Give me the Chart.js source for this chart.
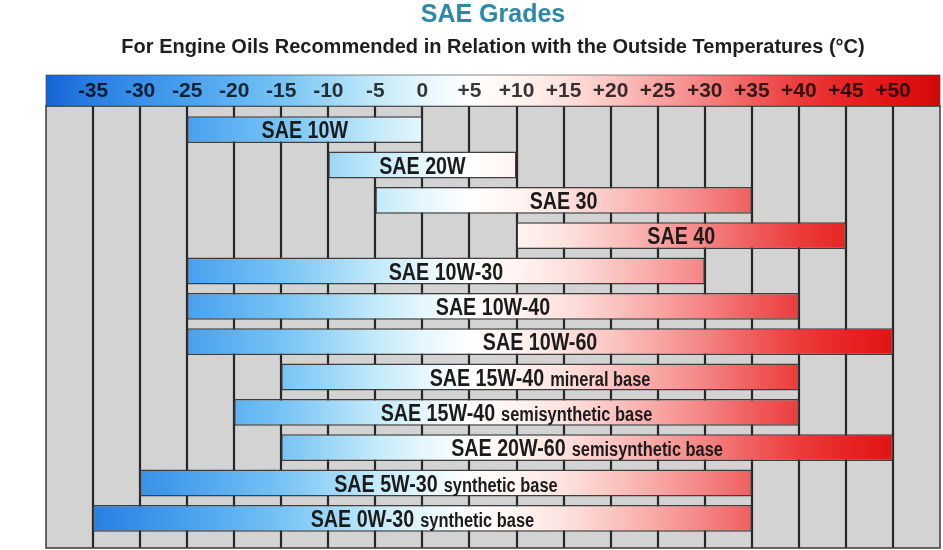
<!DOCTYPE html>
<html>
<head>
<meta charset="utf-8">
<script src="https://cdn.jsdelivr.net/npm/chart.js@4.4.1/dist/chart.umd.min.js"></script>
<style>
    html, body { margin: 0; padding: 0; background: #ffffff; overflow: hidden; }
    #wrap { width: 943px; height: 550px; position: relative; }
    #wrap canvas { display: block; }
</style>
</head>
<body>
<div id="wrap"><canvas id="oilChart"></canvas></div>
<script>
// data
const grades = ["SAE 10W", "SAE 20W", "SAE 30", "SAE 40", "SAE 10W-30", "SAE 10W-40", "SAE 10W-60",
    "SAE 15W-40", "SAE 15W-40", "SAE 20W-60", "SAE 5W-30", "SAE 0W-30"];
const bases = ["", "", "", "", "", "", "",
    "mineral base", "semisynthetic base", "semisynthetic base", "synthetic base", "synthetic base"];
const minTemps = [-25, -10, -5, 10, -25, -25, -25, -15, -20, -15, -30, -35];
const maxTemps = [0, 10, 35, 45, 30, 40, 50, 40, 40, 50, 35, 35];
const tempMin = -40;
const tempMax = 55;
const tempStep = 5;

// blue -> white -> red colour ramp by temperature
const rampTemps = [-40, -35, -25, -15, -10, -5, 0, 5, 10, 15, 20, 25, 30, 35, 40, 45, 50, 55];
const rampColors = ["#1463d4", "#2a7fe2", "#48a0ee", "#76c3f5", "#9bd6f7", "#c3eafa", "#e4f6fc", "#ffffff",
    "#fff4f1", "#fde2df", "#fbc6c3", "#f8a6a4", "#f48383", "#f05e5e", "#ec3c3c", "#e82424", "#e21414", "#d20808"];

const sans = '"Liberation Sans", Arial, sans-serif';

function tempGradient(chart) {
    const x = chart.scales.x;
    const ctx = chart.ctx;
    const g = ctx.createLinearGradient(x.getPixelForValue(tempMin), 0, x.getPixelForValue(tempMax), 0);
    rampTemps.forEach((t, i) => {
        g.addColorStop((t - tempMin) / (tempMax - tempMin), rampColors[i]);
    });
    return g;
}

// gray panel, header band and vertical grid lines
const backdrop = {
    id: "backdrop",
    beforeDraw(chart) {
        const { ctx, chartArea, scales } = chart;
        const x = scales.x;
        const left = x.getPixelForValue(tempMin);
        const right = x.getPixelForValue(tempMax);
        const headTop = chartArea.top - 37;
        const headBottom = chartArea.top - 6;
        const bottom = chartArea.bottom + 12;
        ctx.save();
        ctx.fillStyle = "#d3d3d3";
        ctx.fillRect(left, headBottom, right - left, bottom - headBottom);

        ctx.strokeStyle = "#262626";
        ctx.lineWidth = 2.2;
        x.ticks.forEach((t) => {
            if (t.value <= tempMin || t.value >= tempMax) return;
            const px = Math.round(x.getPixelForValue(t.value));
            ctx.beginPath();
            ctx.moveTo(px, headBottom);
            ctx.lineTo(px, bottom);
            ctx.stroke();
        });
        ctx.lineWidth = 1.5;
        ctx.strokeStyle = "#3a3a3a";
        ctx.strokeRect(left, headBottom, right - left, bottom - headBottom);

        ctx.fillStyle = tempGradient(chart);
        ctx.fillRect(left, headTop, right - left, headBottom - headTop);
        ctx.strokeStyle = "rgba(60,60,60,0.6)";
        ctx.lineWidth = 1;
        ctx.strokeRect(left, headTop, right - left, headBottom - headTop);
        ctx.restore();
    },
};

// grade names written inside the bars, squeezed to a condensed look
const barLabels = {
    id: "barLabels",
    afterDatasetsDraw(chart) {
        const ctx = chart.ctx;
        const meta = chart.getDatasetMeta(0);
        const squeeze = 0.82;
        const mainFont = "bold 24px " + sans;
        const subFont = "bold 20px " + sans;
        ctx.save();
        ctx.fillStyle = "#1b1b1b";
        ctx.textBaseline = "alphabetic";
        ctx.textAlign = "left";
        meta.data.forEach((bar, i) => {
            const cx = (bar.x + bar.base) / 2;
            ctx.font = mainFont;
            const w1 = ctx.measureText(grades[i]).width * squeeze;
            let w2 = 0;
            let gap = 0;
            if (bases[i]) {
                ctx.font = subFont;
                w2 = ctx.measureText(bases[i]).width * squeeze;
                gap = 6;
            }
            const x0 = cx - (w1 + gap + w2) / 2;
            const y = bar.y + 8.5;
            ctx.save();
            ctx.translate(x0, y);
            ctx.scale(squeeze, 1);
            ctx.font = mainFont;
            ctx.fillText(grades[i], 0, 0);
            if (bases[i]) {
                ctx.font = subFont;
                ctx.fillText(bases[i], (w1 + gap) / squeeze, 0);
            }
            ctx.restore();
        });
        ctx.restore();
    },
};

new Chart(document.getElementById("oilChart"), {
    type: "bar",
    data: {
        labels: grades.map((g, i) => (bases[i] ? g + " " + bases[i] : g)),
        datasets: [
            {
                data: minTemps.map((lo, i) => [lo, maxTemps[i]]),
                backgroundColor: (context) => {
                    if (!context.chart.chartArea) return "#cccccc";
                    return tempGradient(context.chart);
                },
                borderColor: "#3e3e3e",
                borderWidth: 1.5,
                borderSkipped: false,
                barPercentage: 0.76,
                categoryPercentage: 1,
            },
        ],
    },
    options: {
        indexAxis: "y",
        responsive: true,
        maintainAspectRatio: false,
        animation: false,
        layout: {
            padding: { top: 0, left: 46, right: 3, bottom: 14 },
        },
        plugins: {
            legend: { display: false },
            tooltip: { enabled: false },
            title: {
                display: true,
                text: "SAE Grades",
                color: "#2c8aa8",
                font: { family: sans, size: 25, weight: "bold", lineHeight: 1 },
                padding: { top: 3, bottom: 7 },
            },
            subtitle: {
                display: true,
                text: "For Engine Oils Recommended in Relation with the Outside Temperatures (°C)",
                color: "#1e1e1e",
                font: { family: sans, size: 20, weight: "bold", lineHeight: 1 },
                padding: { top: 2, bottom: 0 },
            },
        },
        scales: {
            x: {
                type: "linear",
                position: "top",
                min: tempMin,
                max: tempMax,
                grid: { display: false, drawTicks: false },
                border: { display: false },
                ticks: {
                    stepSize: tempStep,
                    autoSkip: false,
                    maxRotation: 0,
                    padding: 10,
                    color: "rgba(0,0,0,0.78)",
                    font: { family: sans, size: 21, weight: "bold", lineHeight: 1 },
                    callback: (v) => {
                        if (v <= tempMin || v >= tempMax) return "";
                        return v > 0 ? "+" + v : String(v);
                    },
                },
                afterFit: (scale) => {
                    scale.height = 55;
                    scale.paddingLeft = 0;
                    scale.paddingRight = 0;
                },
            },
            y: {
                display: false,
            },
        },
    },
    plugins: [backdrop, barLabels],
});
</script>
</body>
</html>
